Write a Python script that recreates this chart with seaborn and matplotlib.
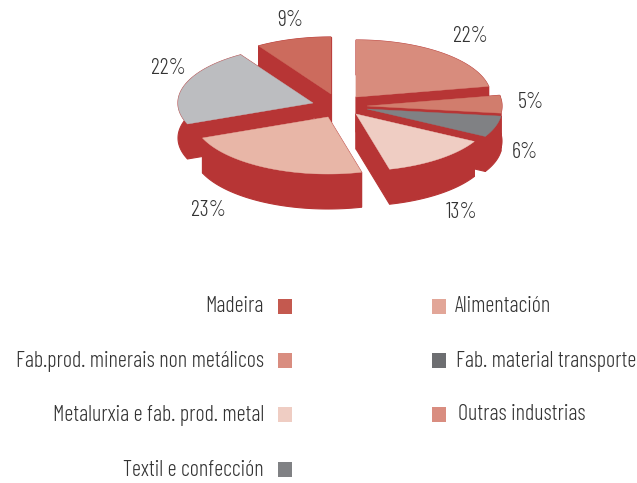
import numpy as np
import matplotlib
matplotlib.use('Agg')
import matplotlib.pyplot as plt
from matplotlib.patches import Polygon, Rectangle
import seaborn as sns

# slices, clockwise from 12 o'clock
slice_values = [22, 5, 6, 13, 23, 22, 9]
slice_colors = ['#d88c7d', '#d17d6d', '#808184', '#efcdc3', '#e8b6a7', '#bcbdc0', '#cc6b5d']

legend_left = ['Madeira', 'Fab.prod. minerais non metálicos', 'Metalurxia e fab. prod. metal', 'Textil e confección']
legend_left_colors = ['#c4594f', '#d98d80', '#efcdc3', '#808184']
legend_right = ['Alimentación', 'Fab. material transporte', 'Outras industrias']
legend_right_colors = ['#e2a698', '#6d6e71', '#d98d80']

# pixel layout
apex = [(356, 97), (367, 106), (367, 109), (356, 114), (328, 117), (313, 103), (331, 94)]
label_pos = [(470, 36), (531, 103), (525, 153), (462, 213), (208, 211), (168, 68), (290, 20)]
rx, ry, depth = 135, 57, 35
wall = '#b73535'
text_color = '#333333'

sns.set_theme(style='white')
plt.rcParams['font.family'] = ['Barlow Condensed', 'Roboto Condensed', 'Liberation Sans', 'DejaVu Sans']
plt.rcParams['font.weight'] = 300

fig = plt.figure(figsize=(6.37, 4.83), dpi=100)
ax = fig.add_axes([0, 0, 1, 1])
ax.set_xlim(0, 637)
ax.set_ylim(483, 0)
ax.axis('off')

# angles come from the values
edges = np.cumsum([0] + slice_values) / sum(slice_values) * 2 * np.pi


def rim(i):
    t = np.linspace(edges[i], edges[i + 1], 60)
    return apex[i][0] + rx * np.sin(t), apex[i][1] - ry * np.cos(t)


# back to front
for i in [6, 5, 0, 1, 2, 3, 4]:
    x, y = rim(i)
    ax0, ay0 = apex[i]
    # side walls, then outer wall, then top face
    for px, py in [(x[0], y[0]), (x[-1], y[-1])]:
        pts = [(ax0, ay0), (px, py), (px, py + depth), (ax0, ay0 + depth)]
        ax.add_patch(Polygon(pts, closed=True, fc=wall, ec=wall, lw=0.8))
    outer = list(zip(x, y)) + list(zip(x[::-1], y[::-1] + depth))
    ax.add_patch(Polygon(outer, closed=True, fc=wall, ec=wall, lw=0.8))
    top = [(ax0, ay0)] + list(zip(x, y))
    ax.add_patch(Polygon(top, closed=True, fc=slice_colors[i], ec=slice_colors[i], lw=0.3))

for v, (lx, ly) in zip(slice_values, label_pos):
    ax.text(lx, ly, f'{v}%', ha='center', va='center', fontsize=16, color=text_color)

rows = [306, 360, 414, 469]
for name, col, yy in zip(legend_left, legend_left_colors, rows):
    ax.text(264, yy + 1, name, ha='right', va='center', fontsize=16, color=text_color)
    ax.add_patch(Rectangle((278, yy - 7), 14, 15, fc=col, ec='none'))
right_x = [455, 456, 458]
for name, col, yy, tx in zip(legend_right, legend_right_colors, rows, right_x):
    ax.text(tx, yy + 1, name, ha='left', va='center', fontsize=16, color=text_color)
    ax.add_patch(Rectangle((432, yy - 7), 14, 15, fc=col, ec='none'))

fig.savefig('out.png', dpi=100)
